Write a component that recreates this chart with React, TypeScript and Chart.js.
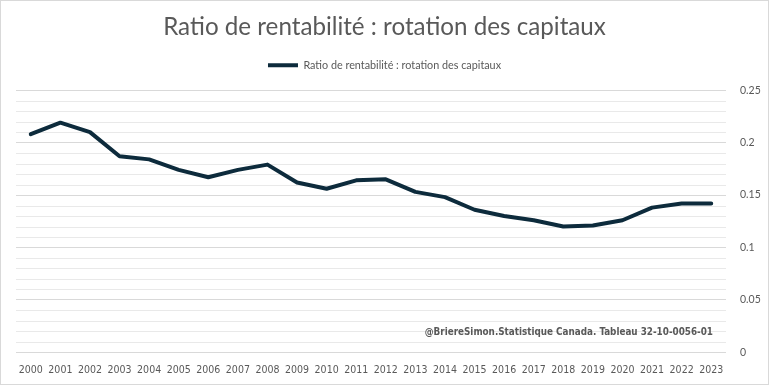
import React, { useEffect, useRef } from "react";
import { Chart, registerables } from "chart.js";

Chart.register(...registerables);

const years: string[] = [
  "2000", "2001", "2002", "2003", "2004", "2005", "2006", "2007", "2008", "2009", "2010", "2011",
  "2012", "2013", "2014", "2015", "2016", "2017", "2018", "2019", "2020", "2021", "2022", "2023",
];

const ratio: number[] = [
  0.208, 0.219, 0.210, 0.187, 0.184, 0.174, 0.167, 0.174, 0.179, 0.162, 0.156, 0.164,
  0.165, 0.153, 0.148, 0.136, 0.130, 0.126, 0.120, 0.121, 0.126, 0.138, 0.142, 0.142,
];

const yMajorStep = 0.05;
const yMinorStep = 0.01;

const titleText = "Ratio de rentabilité : rotation des capitaux";
const seriesLabel = "Ratio de rentabilité : rotation des capitaux";
const sourceText = "@BriereSimon.Statistique Canada. Tableau 32-10-0056-01";

const LINE_COLOR = "#0d2b3c";
const TEXT_COLOR = "#595959";
const MAJOR_GRID = "#d9d9d9";
const MINOR_GRID = "#e9e9e9";
const NARROW = "'Liberation Sans Narrow', 'DejaVu Sans Condensed', 'Roboto Condensed', sans-serif";
const MAIN = "Lato, 'Open Sans', sans-serif";

export default function App() {
  const canvasRef = useRef<HTMLCanvasElement | null>(null);

  useEffect(() => {
    document.body.style.margin = "0";
    const canvas = canvasRef.current;
    if (!canvas) return;

    const legendSpace = {
      id: "legendSpace",
      beforeInit(chart: any) {
        const lg = chart.legend;
        if (!lg) return;
        const orig = lg.fit;
        lg.fit = function () {
          orig.call(this);
          this.height += 9.5;
        };
      },
    };

    const minorGrid = {
      id: "minorGrid",
      beforeDatasetsDraw(chart: any) {
        const { ctx, chartArea, scales } = chart;
        const y = scales.y;
        ctx.save();
        ctx.strokeStyle = MINOR_GRID;
        ctx.lineWidth = 1;
        const n = Math.round((y.max - y.min) / yMinorStep);
        for (let i = 0; i <= n; i++) {
          const v = y.min + i * yMinorStep;
          if (i % Math.round(yMajorStep / yMinorStep) === 0) continue;
          const py = Math.round(y.getPixelForValue(v)) + 0.5;
          ctx.beginPath();
          ctx.moveTo(chartArea.left, py);
          ctx.lineTo(chartArea.right, py);
          ctx.stroke();
        }
        ctx.restore();
      },
    };

    const extras = {
      id: "extras",
      afterDraw(chart: any) {
        const { ctx, chartArea } = chart;
        ctx.save();
        ctx.font = `bold 9.8px ${NARROW}`;
        ctx.fillStyle = TEXT_COLOR;
        ctx.textAlign = "right";
        ctx.textBaseline = "middle";
        ctx.fillText(sourceText, chartArea.right - 13, chart.scales.y.getPixelForValue(0.019));
        ctx.strokeStyle = "#d9d9d9";
        ctx.lineWidth = 1;
        ctx.strokeRect(0.5, 0.5, chart.width - 1, chart.height - 1);
        ctx.restore();
      },
    };

    const chart = new Chart(canvas, {
      type: "line",
      data: {
        labels: years,
        datasets: [
          {
            label: seriesLabel,
            data: ratio,
            borderColor: LINE_COLOR,
            backgroundColor: LINE_COLOR,
            borderWidth: 4,
            pointRadius: 0,
            tension: 0,
            borderJoinStyle: "round",
            borderCapStyle: "round",
          },
        ],
      },
      options: {
        animation: false,
        responsive: true,
        maintainAspectRatio: false,
        layout: { padding: { left: 16, right: 16, top: 0, bottom: 4 } },
        plugins: {
          title: {
            display: true,
            text: titleText,
            color: TEXT_COLOR,
            font: { family: MAIN, size: 24.2, weight: "normal" },
            padding: { top: 13, bottom: 6 },
          },
          legend: {
            display: true,
            position: "top",
            labels: {
              color: TEXT_COLOR,
              font: { family: MAIN, size: 10.8 },
              boxWidth: 30,
              boxHeight: 4,
              padding: 11.8,
              generateLabels: (ch: any) =>
                ch.data.datasets.map((ds: any, i: number) => ({
                  text: ds.label,
                  fillStyle: LINE_COLOR,
                  strokeStyle: LINE_COLOR,
                  lineWidth: 0,
                  fontColor: TEXT_COLOR,
                  datasetIndex: i,
                  hidden: false,
                })),
            },
          },
          tooltip: { enabled: false },
        },
        scales: {
          x: {
            type: "category",
            offset: true,
            grid: { display: false },
            border: { display: false },
            ticks: {
              color: TEXT_COLOR,
              font: { family: NARROW, size: 10.5 },
              maxRotation: 0,
              autoSkip: false,
              padding: 4,
            },
          },
          y: {
            position: "right",
            min: 0,
            max: 0.25,
            border: { display: false },
            afterFit: (s: any) => {
              s.width = 27;
              s._computeLabelArea = () => undefined;
            },
            grid: {
              drawTicks: false,
              lineWidth: 1,
              color: MAJOR_GRID,
            },
            ticks: {
              stepSize: yMajorStep,
              autoSkip: false,
              color: TEXT_COLOR,
              font: { family: MAIN, size: 10.5 },
              padding: 14,
              callback: (v: any) => String(Number(Number(v).toFixed(2))),
            },
          },
        },
      },
      plugins: [legendSpace, minorGrid, extras],
    });

    return () => chart.destroy();
  }, []);

  return (
    <div style={{ width: 769, height: 385, position: "relative" }}>
      <canvas ref={canvasRef} />
    </div>
  );
}
